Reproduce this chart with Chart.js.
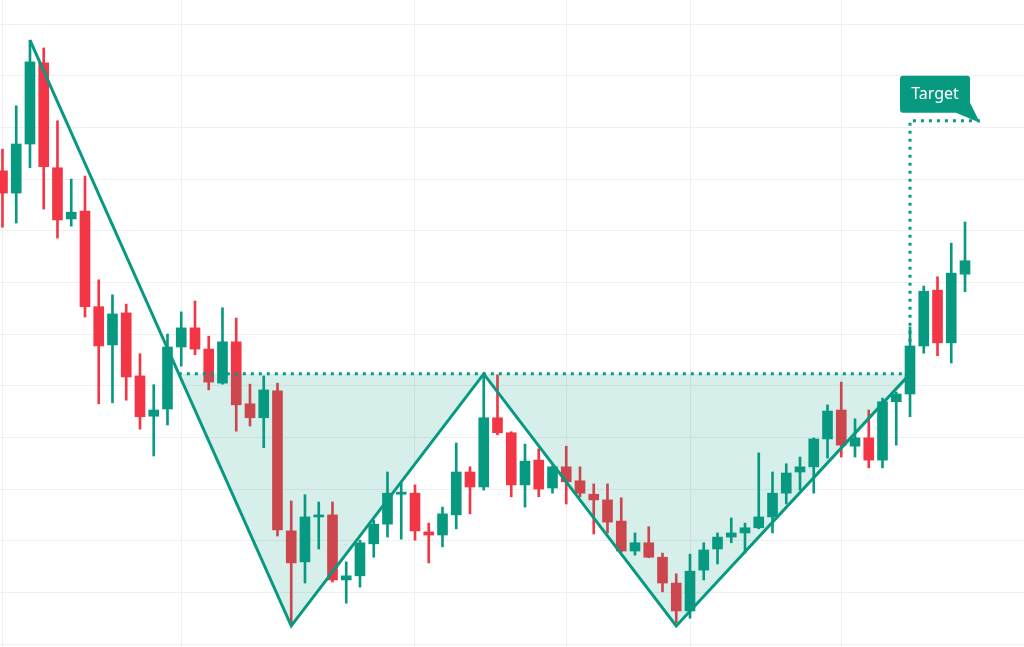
<!DOCTYPE html>
<html><head><meta charset="utf-8">
<script src="https://cdn.jsdelivr.net/npm/chart.js@4.4.1/dist/chart.umd.min.js"></script>
<style>html,body{margin:0;padding:0;background:#fff;}#wrap{width:1024px;height:647px;position:relative;}</style>
</head><body><div id="wrap"><canvas id="c"></canvas></div>
<script>
// Candle data (price units)
const openP  = [191.6,187.3,196.8,212.5,192.2,182.3,183.8,165.3,157.9,164.1,151.9,144.1,145.5,157.5,161.2,157.1,150.5,158.5,146.5,143.8,
                149.0,121.9,115.9,124.6,125.0,112.4,113.2,119.4,123.2,129.0,129.2,121.7,121.1,125.0,133.3,130.4,143.8,140.9,130.8,135.6,
                130.2,134.3,131.6,129.0,127.9,123.8,118.0,119.6,116.8,111.8,106.4,114.3,118.4,120.7,121.5,122.5,124.6,129.2,133.3,134.3,
                139.7,145.3,138.3,139.9,135.6,146.9,148.4,157.7,168.5,158.3,171.6];
const highP  = [195.8,204.2,216.9,215.4,201.3,190.0,190.6,170.5,167.6,165.8,156.2,150.2,160.0,164.3,166.4,159.6,165.1,163.1,150.3,151.9,
                150.5,127.7,128.9,127.5,127.5,115.9,120.1,124.0,133.3,131.2,130.8,123.4,126.5,138.9,134.3,152.3,152.1,141.1,138.7,137.8,
                134.5,138.3,134.3,131.0,131.0,128.3,121.5,122.7,117.6,113.6,117.4,119.6,121.5,124.4,123.4,137.0,133.3,134.9,136.2,139.9,
                146.3,150.7,143.6,145.3,147.6,148.8,161.4,169.3,171.1,177.6,181.7];
const lowP   = [180.7,181.5,192.2,184.2,178.6,180.9,163.3,146.5,146.7,147.2,141.6,136.4,142.4,153.8,156.0,149.2,150.3,141.2,142.2,138.0,
                120.9,103.7,111.8,118.4,112.0,107.9,111.0,116.8,120.7,120.3,120.1,115.7,118.8,122.3,125.2,129.8,140.5,128.5,126.5,128.5,
                129.2,127.1,128.5,121.3,121.5,117.8,117.2,116.7,110.1,104.1,105.0,112.4,115.5,119.6,117.6,122.3,121.5,127.1,129.8,129.2,
                136.0,136.2,136.2,134.1,134.1,138.5,144.0,156.3,155.8,154.4,168.2];
const closeP = [187.3,196.8,212.7,192.4,182.1,183.6,165.3,157.7,163.9,151.7,144.0,145.3,157.5,161.2,157.1,150.7,158.5,146.3,143.8,149.2,
                122.1,115.7,124.6,124.8,112.4,113.2,119.6,123.2,129.2,129.4,121.9,121.1,125.2,133.3,130.4,143.8,140.9,130.8,135.4,130.0,
                134.3,131.4,129.2,127.9,123.6,118.0,119.6,116.8,111.8,106.4,114.1,118.2,120.7,121.5,122.5,124.6,129.2,133.1,134.3,139.7,
                145.1,138.5,139.9,135.6,146.9,148.4,157.7,168.3,158.3,171.8,174.2];

// Double-bottom pattern
const patternIdx   = [2, 21, 35, 49, 66];
const patternPrice = [216.9, 103.5, 152.3, 103.5, 152.3];
const necklinePrice = 152.3;
const targetPrice = 201.3;
const targetIdx = 66;
const targetEndIdx = 71.1;
const targetLabel = 'Target';

// Grid positions
const gridIdx = [0, 13, 30, 41, 50, 61];
const priceGrid = [100,110,120,130,140,150,160,170,180,190,200,210,220];
const viewX = [-0.18, 74.29];
const viewY = [99.42, 224.68];

const GREEN = '#089981', RED = '#F23645';

const up = closeP.map((c,i)=> c >= openP[i]);
const wickData = openP.map((o,i)=>({x:i, y:[lowP[i], highP[i]]}));
const bodyData = openP.map((o,i)=>({x:i, y:[Math.min(o,closeP[i]), Math.max(o,closeP[i])]}));
const colors = up.map(u => u ? GREEN : RED);

// where first leg crosses the neckline
const t0 = (patternPrice[0]-necklinePrice)/(patternPrice[0]-patternPrice[1]);
const fillStart = patternIdx[0] + t0*(patternIdx[1]-patternIdx[0]);
const fillData = [{x:fillStart, y:necklinePrice}].concat(patternIdx.slice(1).map((v,k)=>({x:v, y:patternPrice[k+1]})));
const lineData = patternIdx.map((v,k)=>({x:v, y:patternPrice[k]}));
const neckData = [{x:fillStart, y:necklinePrice},{x:patternIdx[4]-0.4, y:necklinePrice}];
const targetData = [{x:targetIdx, y:necklinePrice},{x:targetIdx, y:targetPrice},{x:targetEndIdx, y:targetPrice}];

const targetPlugin = {
  id:'targetLabel',
  afterDatasetsDraw(chart){
    const {ctx, scales:{x,y}} = chart;
    const px = x.getPixelForValue(targetIdx), py = y.getPixelForValue(targetPrice);
    const left = px-10, right = px+60, top = py-45, bottom = py-8, r = 3;
    ctx.save();
    ctx.fillStyle = GREEN;
    ctx.beginPath();
    ctx.moveTo(left+r, top);
    ctx.lineTo(right-r, top);
    ctx.quadraticCurveTo(right, top, right, top+r);
    ctx.lineTo(right, bottom-r);
    ctx.quadraticCurveTo(right, bottom, right-r, bottom);
    ctx.lineTo(left+r, bottom);
    ctx.quadraticCurveTo(left, bottom, left, bottom-r);
    ctx.lineTo(left, top+r);
    ctx.quadraticCurveTo(left, top, left+r, top);
    ctx.closePath();
    ctx.fill();
    ctx.beginPath();
    ctx.moveTo(right-14, bottom);
    ctx.lineTo(right, bottom-10);
    ctx.lineTo(px+70, py+2);
    ctx.closePath();
    ctx.fill();
    ctx.fillStyle = '#ffffff';
    ctx.font = '16px "Noto Sans", "Open Sans", sans-serif';
    ctx.textAlign = 'center';
    ctx.textBaseline = 'middle';
    ctx.fillText(targetLabel, px+25, py-26);
    ctx.restore();
  }
};

new Chart(document.getElementById('c'), {
  type:'bar',
  data:{ datasets:[
    {type:'line', data:targetData, borderColor:GREEN, borderWidth:3, borderDash:[3,5], pointRadius:0, fill:false, order:1},
    {type:'line', data:lineData, borderColor:GREEN, borderWidth:3, pointRadius:0, fill:false, order:2},
    {type:'line', data:neckData, borderColor:GREEN, borderWidth:3, borderDash:[3,5], pointRadius:0, fill:false, order:3},
    {type:'line', data:fillData, borderWidth:0, borderColor:'rgba(0,0,0,0)', backgroundColor:'rgba(8,153,129,0.16)', pointRadius:0, fill:{value:necklinePrice}, order:4},
    {type:'bar', data:bodyData, backgroundColor:colors, barThickness:10, minBarLength:2, grouped:false, borderWidth:0, order:5},
    {type:'bar', data:wickData, backgroundColor:colors, barThickness:2, grouped:false, borderWidth:0, order:6}
  ]},
  options:{
    responsive:true, maintainAspectRatio:false, animation:false,
    layout:{padding:0},
    plugins:{legend:{display:false}, tooltip:{enabled:false}},
    scales:{
      x:{type:'linear', min:viewX[0], max:viewX[1], offset:false,
         grid:{color:'#efefef', drawTicks:false, offset:false}, border:{display:false},
         ticks:{display:false},
         afterBuildTicks(axis){ axis.ticks = gridIdx.map(v=>({value:v})); }},
      y:{type:'linear', min:viewY[0], max:viewY[1],
         grid:{color:'#efefef', drawTicks:false}, border:{display:false},
         ticks:{display:false},
         afterBuildTicks(axis){ axis.ticks = priceGrid.map(v=>({value:v})); }}
    }
  },
  plugins:[targetPlugin]
});
</script></body></html>
